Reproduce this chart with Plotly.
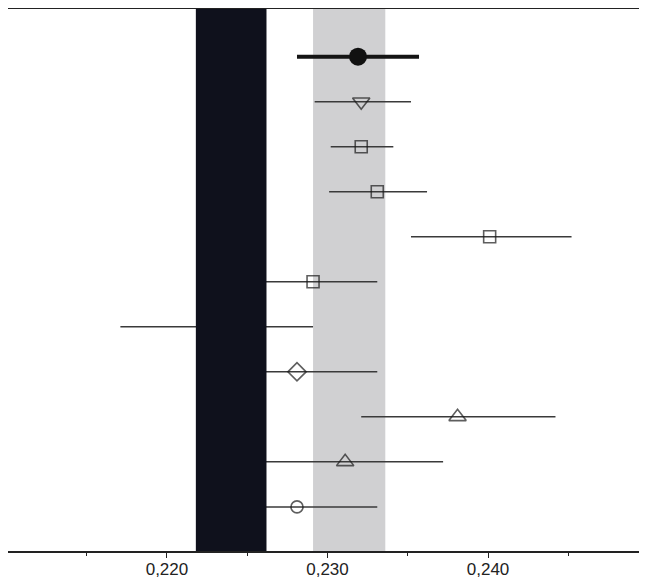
import plotly.graph_objects as go

rows = [1, 2, 3, 4, 5, 6, 7, 8, 9, 10, 11]
estimates = [0.2319, 0.2321, 0.2321, 0.2331, 0.2401, 0.2291, 0.2231, 0.2281, 0.2381, 0.2311, 0.2281]
lower = [0.2281, 0.2292, 0.2302, 0.2301, 0.2352, 0.2251, 0.2171, 0.2231, 0.2321, 0.2251, 0.2231]
upper = [0.2357, 0.2352, 0.2341, 0.2362, 0.2452, 0.2331, 0.2291, 0.2331, 0.2442, 0.2372, 0.2331]
symbols = ["circle", "triangle-down-open", "square-open", "square-open", "square-open",
           "square-open", "square-open", "diamond-open", "triangle-up-open",
           "triangle-up-open", "circle-open"]
marker_sizes = [18, 15, 12, 12, 12, 12, 12, 14, 15, 15, 12]
black_band = [0.2218, 0.2262]
gray_band = [0.2291, 0.2336]
x_ticks = [0.210, 0.220, 0.230, 0.240, 0.250]

fig = go.Figure()

# Bold first row
fig.add_trace(go.Scatter(
    x=estimates[:1], y=rows[:1], mode="markers",
    marker=dict(symbol=symbols[0], size=marker_sizes[0], color="#111111"),
    error_x=dict(type="data", symmetric=False,
                 array=[upper[0] - estimates[0]],
                 arrayminus=[estimates[0] - lower[0]],
                 width=0, thickness=4, color="#141414"),
    showlegend=False, hoverinfo="skip"))

fig.add_trace(go.Scatter(
    x=estimates[1:], y=rows[1:], mode="markers",
    marker=dict(symbol=symbols[1:], size=marker_sizes[1:], color="#1a1a1a",
                line=dict(width=1.6, color="#1a1a1a")),
    error_x=dict(type="data", symmetric=False,
                 array=[u - e for u, e in zip(upper[1:], estimates[1:])],
                 arrayminus=[e - l for e, l in zip(estimates[1:], lower[1:])],
                 width=0, thickness=1.5, color="#3a3a3a"),
    showlegend=False, hoverinfo="skip"))

fig.add_shape(type="rect", xref="x", yref="paper", x0=gray_band[0], x1=gray_band[1],
              y0=0, y1=1, fillcolor="#d0d0d2", line=dict(width=0), layer="below")
fig.add_shape(type="rect", xref="x", yref="paper", x0=black_band[0], x1=black_band[1],
              y0=0, y1=1, fillcolor="#0f111c", line=dict(width=0), layer="above")

fig.update_layout(
    width=639, height=573,
    margin=dict(l=0, r=0, t=1, b=30, autoexpand=False),
    paper_bgcolor="white", plot_bgcolor="white",
    separators=",.",
    font=dict(family="Liberation Sans, Arial, sans-serif", size=17, color="#222222"),
)
fig.update_xaxes(
    range=[0.2101, 0.2499], tickvals=x_ticks, tickformat=".3f",
    ticks="outside", ticklen=5, tickwidth=1.2, tickcolor="#222222",
    ticklabelstandoff=-3,
    showline=True, linecolor="#222222", linewidth=1.5, mirror="ticks",
    showgrid=False, zeroline=False, automargin=False,
    minor=dict(dtick=0.005, tick0=0.210, ticks="outside", ticklen=3,
               tickwidth=1, tickcolor="#222222", showgrid=False),
)
fig.update_yaxes(
    range=[11.98, -0.06], showticklabels=False, ticks="", showgrid=False,
    zeroline=False, showline=True, linecolor="#222222", linewidth=1.5, mirror=False,
    automargin=False,
)

fig.write_html("out.html")
